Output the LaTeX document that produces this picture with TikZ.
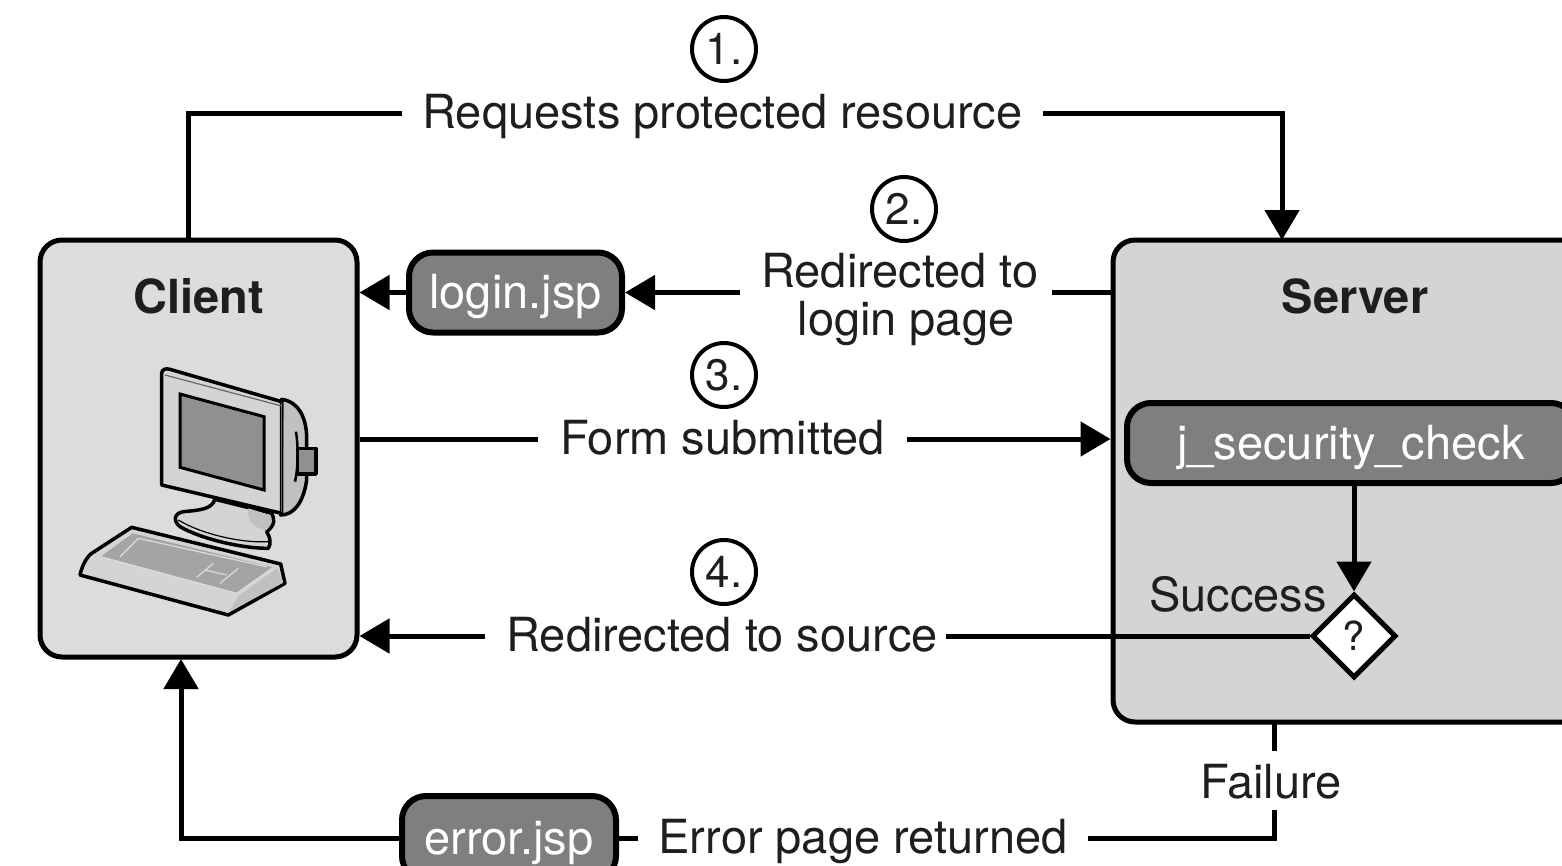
\documentclass[tikz,border=0pt]{standalone}
\usepackage{fontspec}
\setmainfont{TeX Gyre Heros}
\usetikzlibrary{arrows.meta,shapes.geometric}
\definecolor{ink}{HTML}{1E1E1E}
\definecolor{clientgrey}{HTML}{DCDCDC}
\definecolor{servergrey}{HTML}{D4D4D4}
\definecolor{pilldark}{HTML}{7F7F7F}
\definecolor{screengrey}{HTML}{909090}
\definecolor{backgrey}{HTML}{C0C0C0}
\definecolor{keygrey}{HTML}{A4A4A4}
\tikzset{
  bigfont/.style={font=\fontsize{47}{48}\selectfont},
  txt/.style={bigfont,text=ink,inner ysep=0pt,inner xsep=20pt,text height=40pt,text depth=10pt},
  txttwo/.style={bigfont,text=ink,inner ysep=0pt,inner xsep=18pt,align=center},
  boxpanel/.style={draw=black,line width=5pt,rounded corners=22pt,inner sep=0pt},
  pill/.style={draw=black,line width=6pt,rounded corners=24pt,fill=pilldark,text=white,inner sep=0pt,bigfont,text height=40pt,text depth=8pt},
  num/.style={circle,draw=black,line width=4pt,minimum size=64pt,inner sep=0pt,font=\fontsize{44}{44}\selectfont,text=ink,fill=white},
  conn/.style={draw=black,line width=5pt},
  arr/.style={conn,-{Triangle[length=30pt,width=34pt]}},
  pc/.style={draw=black,line width=3.5pt,line join=round},
  thin line/.style={draw=#1,line width=1.2pt}
}
\begin{document}
\begin{tikzpicture}[x=1pt,y=-1pt]
\path[use as bounding box,clip] (0,0) rectangle (1562,865);
\fill[white] (0,0) rectangle (1562,865);
% panels
\node[boxpanel,fill=clientgrey,minimum width=317pt,minimum height=417pt] (client) at (198.5,448.5) {};
\node[boxpanel,fill=servergrey,minimum width=500pt,minimum height=482pt] (server) at (1363,481) {};
\node[font=\fontsize{47}{48}\selectfont\bfseries,text=ink] (clientlbl) at (199,296) {Client};
\node[font=\fontsize{47}{48}\selectfont\bfseries,text=ink] (serverlbl) at (1355,296) {Server};
% pills
\node[pill,minimum width=213pt,minimum height=80pt] (loginjsp) at (515.5,292.5) {login.jsp};
\node[pill,minimum width=214pt,minimum height=84pt] (errorjsp) at (509,838) {error.jsp};
\node[pill,minimum width=448pt,minimum height=80pt] (jcheck) at (1351,443) {j\_security\_check};
\node[diamond,aspect=1,draw=black,line width=5pt,fill=white,minimum size=84pt,inner sep=0pt,font=\fontsize{40}{40}\selectfont,text=ink] (dec) at (1354,636) {?};
% labels
\node[txt] (req) at (722.5,113) {Requests protected resource};
\node[txttwo] (redir) at (900,299) {Redirected to\\\hspace*{12pt}login page};
\node[txt,inner xsep=22pt] (form) at (722.5,439) {Form submitted};
\node[txt,inner xsep=8pt] (source) at (722,636) {Redirected to source};
\node[txt,inner xsep=0pt] (success) at (1238,596) {Success};
\node[txt,inner xsep=0pt] (failure) at (1271,783) {Failure};
\node[txt] (errtxt) at (863,838) {Error page returned};
% numbers
\node[num] (n1) at (724,49) {1.};
\node[num] (n2) at (904,209) {2.};
\node[num] (n3) at (724,375) {3.};
\node[num] (n4) at (724,572) {4.};
% helper coordinates
\coordinate (reqleft) at (188,240);
\coordinate (reqright) at (1282,240);
\coordinate (failtop) at (1274,722);
\coordinate (failgapa) at (1274,751);
\coordinate (failgapb) at (1274,810);
\coordinate (erruptarget) at (181,659);
\coordinate (srcleft) at (485,636);
\coordinate (redirleft) at (740,292.5);
\coordinate (redirright) at (1052,292.5);
% connectors
\draw[conn] (reqleft) |- (req.west);
\draw[arr] (req.east) -| (reqright);
\draw[conn] (server.west |- redirright) -- (redirright);
\draw[arr] (redirleft) -- (loginjsp.east);
\draw[arr] (loginjsp.west) -- (client.east |- loginjsp.west);
\draw[conn] (client.east |- form.west) -- (form.west);
\draw[arr] (form.east) -- (server.west |- form.east);
\draw[arr] (dec.north |- jcheck.south) -- (dec.north);
\draw[conn] (dec.west) -- (source.east);
\draw[arr] (srcleft) -- (client.east |- srcleft);
\draw[conn] (failtop) -- (failgapa);
\draw[conn] (failgapb) |- (errtxt.east);
\draw[conn] (errtxt.west) -- (errorjsp.east |- errtxt.west);
\draw[arr] (errorjsp.west) -| (erruptarget);
% computer
\begin{scope}[shift={(40,340)},x=0.33333pt,y=-0.33333pt]
% keyboard
\path[pc,fill=servergrey] (275,562) -- (722,672) -- (735,730) -- (565,825) -- (120,705) .. controls (125,680) and (140,650) .. (155,640) -- cycle;
\path[fill=keygrey] (182,650) -- (278,580) -- (700,682) -- (590,760) -- cycle;
\path[fill=backgrey] (712,685) -- (730,728) -- (568,815) -- (595,768) -- cycle;
\draw[thin line=clientgrey] (182,650) -- (590,760) -- (700,682);
\draw[thin line=clientgrey] (240,650) -- (295,595) -- (680,680);
\draw[thin line=clientgrey] (470,712) -- (520,670) (495,690) -- (560,705) (540,730) -- (595,685);
% stand
\path[pc,fill=servergrey] (525,478) .. controls (515,505) and (490,510) .. (430,515) .. controls (400,520) and (400,545) .. (420,560) .. controls (480,595) and (600,625) .. (685,625) .. controls (695,610) and (690,590) .. (680,575) .. controls (705,555) and (705,540) .. (695,520) -- cycle;
\draw[thin line=black] (415,540) .. controls (480,580) and (600,610) .. (685,605);
\path[fill=backgrey] (625,505) .. controls (620,540) and (640,565) .. (680,570) .. controls (695,555) and (695,540) .. (690,525) -- cycle;
% monitor back
\path[pc,fill=backgrey] (725,178) .. controls (775,185) and (798,230) .. (800,290) -- (800,420) .. controls (790,490) and (760,525) .. (722,525) -- cycle;
% monitor front
\path[pc,fill=servergrey] (365,435) -- (365,100) .. controls (365,88) and (378,84) .. (390,88) -- (725,185) -- (725,520) -- cycle;
\draw[thin line=black!60] (375,105) -- (725,198);
\draw[thin line=black!60] (725,190) -- (725,515);
\path[draw=black,line width=3pt,fill=screengrey] (420,162) -- (672,230) -- (672,450) -- (420,382) -- cycle;
% plug
\path[draw=black,line width=2.5pt] (768,275) .. controls (775,320) and (775,380) .. (765,425);
\path[pc,fill=screengrey] (772,325) -- (828,325) -- (828,402) -- (772,402) -- cycle;
\end{scope}
\end{tikzpicture}
\end{document}
